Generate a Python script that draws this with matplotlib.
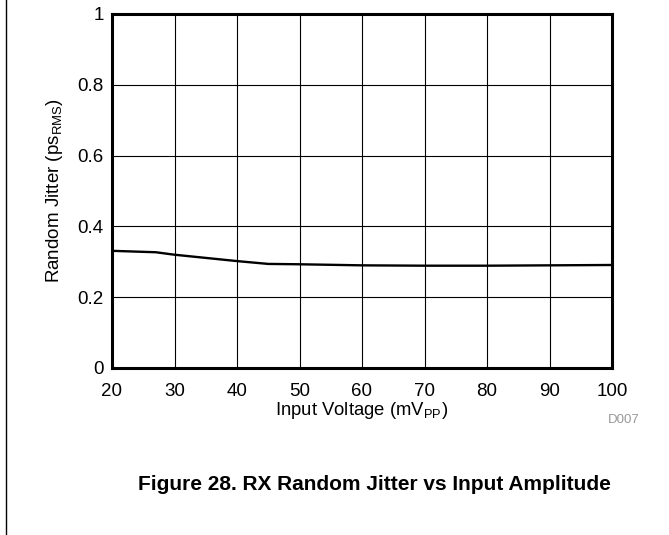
import matplotlib
matplotlib.use('Agg')
import matplotlib.pyplot as plt
from matplotlib.lines import Line2D

plt.rcParams['font.family'] = ['Liberation Sans', 'DejaVu Sans']
plt.rcParams['mathtext.fontset'] = 'custom'
plt.rcParams['mathtext.rm'] = 'Liberation Sans'

# 数据
voltage = [20, 27, 30, 35, 40, 45, 50, 60, 70, 80, 90, 100]
jitter = [0.331, 0.327, 0.320, 0.311, 0.302, 0.294, 0.293, 0.290, 0.289, 0.289, 0.290, 0.291]
xticks = [20, 30, 40, 50, 60, 70, 80, 90, 100]
yticks = [0, 0.2, 0.4, 0.6, 0.8, 1]
yticklabels = ['0', '0.2', '0.4', '0.6', '0.8', '1']

W, H = 669, 535
fig = plt.figure(figsize=(W / 100, H / 100), dpi=100)
ax = fig.add_axes([112 / W, 1 - 368 / H, 500 / W, 354 / H])

ax.plot(voltage, jitter, color='black', lw=1.7, solid_joinstyle='round')

ax.set_xlim(20, 100)
ax.set_ylim(0, 1)
ax.set_xticks(xticks)
ax.set_yticks(yticks)
ax.set_yticklabels(yticklabels)
ax.grid(True, color='black', lw=0.8)
ax.tick_params(length=0, labelsize=13.5)
ax.tick_params(axis='x', pad=11)
ax.tick_params(axis='y', pad=6)
for s in ax.spines.values():
    s.set_linewidth(2.2)

ax.set_xlabel('Input Voltage (mV$\\mathregular{_{PP}}$)', fontsize=13.3, labelpad=0)
ax.set_ylabel('Random Jitter (ps$\\mathregular{_{RMS}}$)', fontsize=13.5, labelpad=9)

fig.text(640 / W, 1 - 420 / H, 'D007', fontsize=9.5, color='#999999', ha='right', va='center')
fig.text(374.5 / W, 1 - 485 / H, 'Figure 28. RX Random Jitter vs Input Amplitude',
         fontsize=15, fontweight='bold', ha='center', va='center')

# 左侧竖线
fig.add_artist(Line2D([6.5 / W, 6.5 / W], [0, 1], color='black', lw=1.0))

fig.savefig('out.png', dpi=100)
